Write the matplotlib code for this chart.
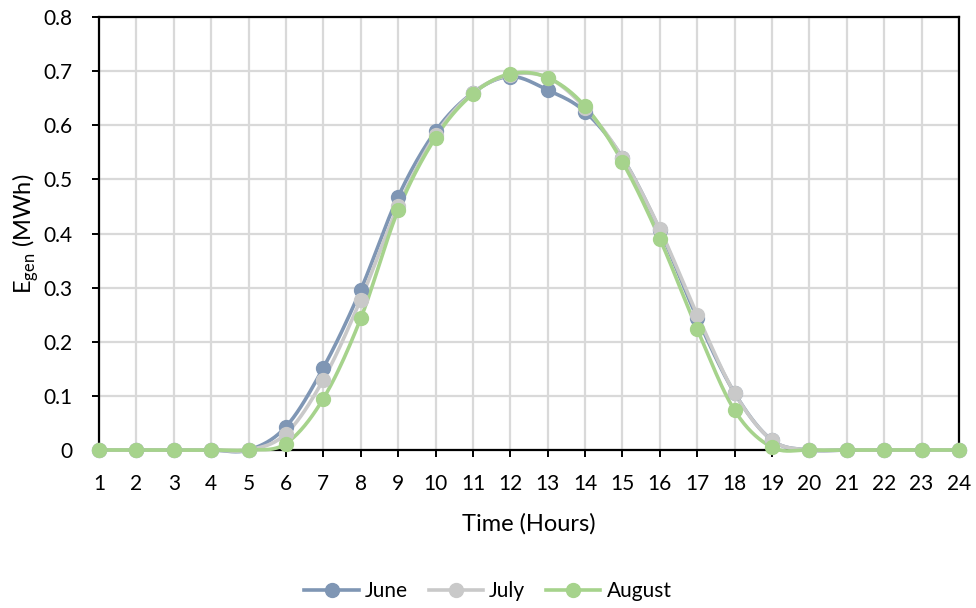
import numpy as np
import matplotlib.pyplot as plt

hours = list(range(1, 25))
june = [0, 0, 0, 0, 0, 0.043, 0.152, 0.296, 0.468, 0.589, 0.660, 0.690, 0.665, 0.625,
        0.540, 0.406, 0.244, 0.105, 0.018, 0, 0, 0, 0, 0]
july = [0, 0, 0, 0, 0, 0.030, 0.130, 0.278, 0.450, 0.582, 0.660, 0.693, 0.688, 0.632,
        0.540, 0.408, 0.250, 0.105, 0.018, 0, 0, 0, 0, 0]
august = [0, 0, 0, 0, 0, 0.012, 0.095, 0.243, 0.443, 0.577, 0.658, 0.695, 0.688, 0.635,
          0.532, 0.390, 0.223, 0.073, 0.005, 0, 0, 0, 0, 0]

series = [('June', june, '#7F96B4'), ('July', july, '#C9C9C9'), ('August', august, '#A6D38C')]


def smooth(x, y, n=20):
    # Excel-style smoothed line (Catmull-Rom through the points)
    x = np.asarray(x, float)
    y = np.asarray(y, float)
    px = np.concatenate([[x[0]], x, [x[-1]]])
    py = np.concatenate([[y[0]], y, [y[-1]]])
    xs, ys = [], []
    t = np.linspace(0, 1, n, endpoint=False)
    for i in range(1, len(px) - 2):
        p0, p1, p2, p3 = [np.array([px[j], py[j]]) for j in (i - 1, i, i + 1, i + 2)]
        c1 = p1 + (p2 - p0) / 6
        c2 = p2 - (p3 - p1) / 6
        b = ((1 - t) ** 3)[:, None] * p1 + (3 * (1 - t) ** 2 * t)[:, None] * c1 \
            + (3 * (1 - t) * t ** 2)[:, None] * c2 + (t ** 3)[:, None] * p2
        xs.extend(b[:, 0])
        ys.extend(b[:, 1])
    xs.append(x[-1])
    ys.append(y[-1])
    return np.array(xs), np.array(ys)


plt.rcParams['font.family'] = ['Lato', 'DejaVu Sans']
fig = plt.figure(figsize=(9.76, 6.08), dpi=100)
ax = fig.add_axes([99 / 976, 1 - 450 / 608, 860 / 976, 433 / 608])

for name, vals, color in series:
    sx, sy = smooth(hours, vals)
    ax.plot(sx, sy, color=color, lw=2.6, zorder=3, clip_on=False, solid_capstyle='round')
    ax.plot(hours, vals, 'o', color=color, ms=10, zorder=4, clip_on=False)
    ax.plot([], [], '-o', color=color, lw=2.6, ms=10, label=name)

ax.set_xlim(1, 24)
ax.set_ylim(0, 0.8)
ax.set_xticks(hours)
ax.set_yticks(np.arange(0, 0.81, 0.1))
ax.set_yticklabels(['0'] + [f'{v:.1f}' for v in np.arange(0.1, 0.81, 0.1)])
ax.grid(True, color='#D9D9D9', lw=1.6)
ax.set_axisbelow(True)
for s in ax.spines.values():
    s.set_color('black')
    s.set_linewidth(1.6)
ax.tick_params(axis='both', direction='out', length=5, width=1.4, labelsize=15, colors='black')
ax.tick_params(axis='y', pad=14)
ax.tick_params(axis='x', pad=12)
ax.set_xlabel('Time (Hours)', fontsize=17, labelpad=14)
ax.set_ylabel('E$_{\\mathregular{gen}}$ (MWh)', fontsize=17, labelpad=2)

fig.legend(loc='center', bbox_to_anchor=(0.5, 1 - 591 / 608), ncol=3, frameon=False,
           fontsize=15, handlelength=2.6, columnspacing=1.0, handletextpad=0.3)

fig.savefig('out.png', dpi=100)
